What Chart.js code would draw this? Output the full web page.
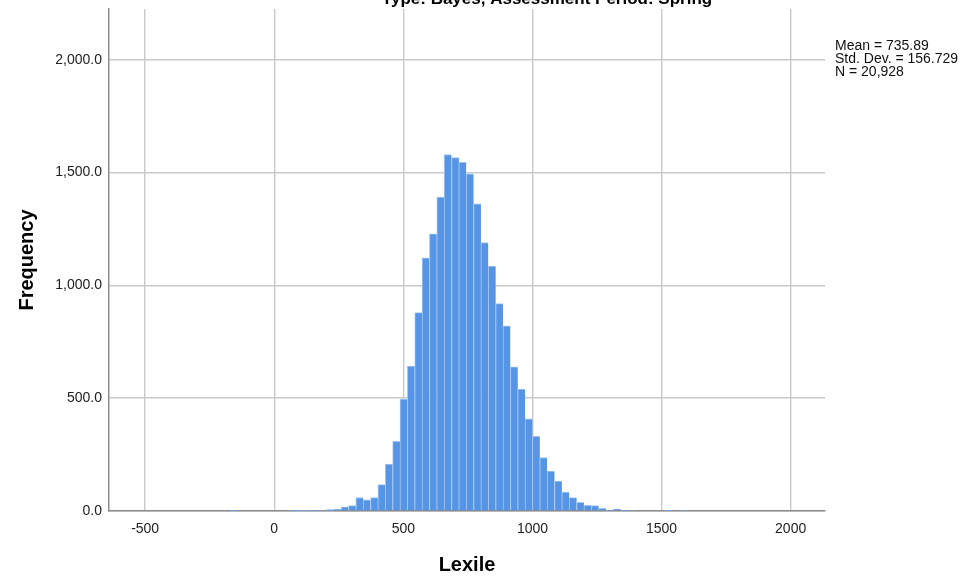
<!DOCTYPE html>
<html>
<head>
<meta charset="utf-8">
<script src="https://cdn.jsdelivr.net/npm/chart.js@4.4.1/dist/chart.umd.min.js"></script>
<style>
  html, body { margin: 0; padding: 0; background: #fff; }
  #wrap { width: 963px; height: 577px; }
</style>
</head>
<body>
<div id="wrap"><canvas id="histChart" width="963" height="577"></canvas></div>
<script>
// Histogram bins: first bin starts at binStart, each bin is binWidth Lexile wide
const binStart = -168.5;
const binWidth = 28.5;
const frequencies = [
  1, 0, 0, 0, 0, 0, 0, 0, 1, 1,
  1, 2, 3, 6, 7, 19, 24, 60, 49, 59,
  117, 208, 309, 496, 642, 879, 1122, 1229, 1391, 1580,
  1566, 1545, 1494, 1361, 1190, 1086, 919, 821, 639, 540,
  408, 331, 237, 177, 133, 84, 59, 38, 25, 24,
  12, 4, 9, 1, 3, 0, 0, 0, 0, 1,
  0, 3
];
const xTicks = [-500, 0, 500, 1000, 1500, 2000];
const yTicks = [0, 500, 1000, 1500, 2000];
const statsLines = ['Mean = 735.89', 'Std. Dev. = 156.729', 'N = 20,928'];
const chartTitle = 'Type: Bayes, Assessment Period: Spring';

const points = frequencies.map((f, i) => ({ x: binStart + (i + 0.5) * binWidth, y: f }));

// Title (clipped at the top edge like the original) and the statistics box
const textPlugin = {
    id: 'textPlugin',
    afterDraw(chart) {
        const ctx = chart.ctx;
        ctx.save();
        ctx.fillStyle = '#000';
        ctx.font = 'bold 17px "Liberation Sans", Arial, sans-serif';
        ctx.textAlign = 'center';
        ctx.textBaseline = 'alphabetic';
        ctx.fillText(chartTitle, 547, 4);

        ctx.fillStyle = '#111';
        ctx.font = '14px "Liberation Sans", Arial, sans-serif';
        ctx.textAlign = 'left';
        statsLines.forEach((line, i) => {
            ctx.fillText(line, 835, 50 + i * 13);
        });
        ctx.restore();
    }
};

const ctx = document.getElementById('histChart').getContext('2d');
const histChart = new Chart(ctx, {
    type: 'bar',
    data: {
        datasets: [{
            label: 'Frequency',
            data: points,
            backgroundColor: '#5695e5',
            borderColor: '#a3c6f1',
            borderWidth: { left: 1, top: 1, right: 0, bottom: 0 },
            borderSkipped: false,
            barPercentage: 1.0,
            categoryPercentage: 1.0
        }]
    },
    options: {
        responsive: false,
        animation: false,
        layout: {
            padding: { top: 9, right: 138, bottom: 0, left: 0 }
        },
        plugins: {
            legend: { display: false },
            tooltip: { enabled: false }
        },
        scales: {
            x: {
                type: 'linear',
                offset: false,
                min: -640,
                max: 2133,
                afterBuildTicks: scale => { scale.ticks = xTicks.map(v => ({ value: v })); },
                afterFit: scale => {
                    scale.height = 66;
                    scale.paddingLeft = 0;
                    scale.paddingRight = 0;
                },
                ticks: {
                    padding: 10,
                    color: '#222',
                    font: { family: '"Liberation Sans", Arial, sans-serif', size: 14 },
                    callback: value => String(value)
                },
                grid: { color: '#c9c9c9', lineWidth: 1.4, drawTicks: false, offset: false },
                border: { color: '#8c8c8c', width: 1.5 },
                title: {
                    display: true,
                    text: 'Lexile',
                    color: '#000',
                    padding: { top: 0, bottom: 0 },
                    font: { family: '"Liberation Sans", Arial, sans-serif', size: 20, weight: 'bold' }
                }
            },
            y: {
                min: 0,
                max: 2225,
                afterBuildTicks: scale => { scale.ticks = yTicks.map(v => ({ value: v })); },
                afterFit: scale => {
                    scale.width = 109;
                    scale.paddingTop = 0;
                    scale.paddingBottom = 0;
                },
                ticks: {
                    padding: 7,
                    color: '#222',
                    font: { family: '"Liberation Sans", Arial, sans-serif', size: 14 },
                    callback: value => value.toLocaleString('en-US', { minimumFractionDigits: 1, maximumFractionDigits: 1 })
                },
                grid: { color: '#c9c9c9', lineWidth: 1.4, drawTicks: false },
                border: { color: '#8c8c8c', width: 1.5 },
                title: {
                    display: true,
                    text: 'Frequency',
                    color: '#000',
                    padding: { top: 15, bottom: 0 },
                    font: { family: '"Liberation Sans", Arial, sans-serif', size: 20, weight: 'bold' }
                }
            }
        }
    },
    plugins: [textPlugin]
});
</script>
</body>
</html>
